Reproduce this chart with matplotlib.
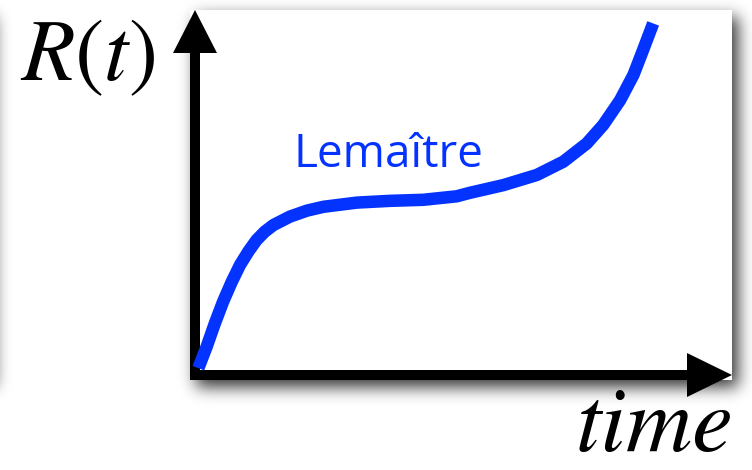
import numpy as np
import matplotlib
matplotlib.use('Agg')
import matplotlib.pyplot as plt
from matplotlib.patches import Rectangle, FancyArrow

# Curva de Lemaitre (unidades arbitrarias, 0..10)
t = [0.03, 0.21, 0.39, 0.57, 0.76, 0.94, 1.12, 1.30, 1.48, 1.67,
     2.03, 2.40, 2.76, 3.49, 4.21, 4.94, 5.67, 5.96, 6.69, 7.42,
     8.00, 8.51, 8.87, 9.24, 9.53, 9.74, 9.96]
R = [0.11, 0.72, 1.39, 2.01, 2.58, 3.06, 3.44, 3.77, 4.01, 4.20,
     4.44, 4.61, 4.72, 4.84, 4.89, 4.92, 5.02, 5.12, 5.34, 5.63,
     6.01, 6.53, 7.06, 7.77, 8.49, 9.20, 9.96]

etiqueta_curva = 'Lemaître'
etiqueta_y = '$R(t)$'
etiqueta_x = 'time'
azul = '#0433ff'

W, H = 752, 470
plt.rcParams['mathtext.fontset'] = 'stix'


def sombra(rects, sigma=7, pad=40):
    # rectangulo difuminado (sombra) en pixeles
    m = np.zeros((H + 2 * pad, W + 2 * pad))
    for x0, y0, x1, y1 in rects:
        x0 = max(int(x0) + pad, 0); x1 = min(int(x1) + pad, W + 2 * pad)
        y0 = max(int(y0) + pad, 0); y1 = min(int(y1) + pad, H + 2 * pad)
        m[y0:y1, x0:x1] = 1.0
    r = np.arange(-3 * sigma, 3 * sigma + 1)
    k = np.exp(-r ** 2 / (2. * sigma ** 2))
    k /= k.sum()
    m = np.apply_along_axis(lambda f: np.convolve(f, k, mode='same'), 1, m)
    m = np.apply_along_axis(lambda c: np.convolve(c, k, mode='same'), 0, m)
    return m[pad:-pad, pad:-pad]


fig = plt.figure(figsize=(W / 100, H / 100), dpi=100)

# capa de decoracion en pixeles
deco = fig.add_axes([0, 0, 1, 1])
deco.axis('off')

caja = (190, 10, 732, 380)
dx, dy = 6, 7
s = sombra([(caja[0] + dx, caja[1] + dy, caja[2] + dx, caja[3] + dy),
            (-400, caja[1] + dy, -6, caja[3] + dy)], sigma=8)
img = np.zeros((H, W, 4))
img[..., 3] = 0.8 * s
deco.imshow(img, extent=(0, W, H, 0), interpolation='bilinear', zorder=1)
deco.set_aspect('auto')
deco.set_xlim(0, W)
deco.set_ylim(H, 0)

deco.add_patch(Rectangle((caja[0], caja[1]), caja[2] - caja[0], caja[3] - caja[1],
                         facecolor='white', edgecolor='none', zorder=2))

# ejes con flechas
deco.add_patch(FancyArrow(195, 380, 0, -370, width=10, head_width=44, head_length=43,
                          length_includes_head=True, color='black', lw=0, zorder=3))
deco.add_patch(FancyArrow(190, 375, 542, 0, width=10, head_width=44, head_length=45,
                          length_includes_head=True, color='black', lw=0, zorder=3))

deco.text(20, 80, etiqueta_y, fontsize=63, color='black', ha='left', va='baseline', zorder=4)
deco.text(576, 451, etiqueta_x, family='STIXGeneral', style='italic', fontsize=66,
          color='black', ha='left', va='baseline', zorder=4)
deco.text(293, 167, etiqueta_curva, family='Open Sans', fontsize=33, color=azul,
          ha='left', va='baseline', zorder=4)

# curva
ax = fig.add_axes([0, 0, 1, 1])
ax.patch.set_visible(False)
ax.set_xlim(-197 / 45.8, (W - 197) / 45.8)
ax.set_ylim(-(H - 372) / 35., 372 / 35.)
ax.axis('off')
ax.plot(t, R, color=azul, lw=9, solid_capstyle='butt', solid_joinstyle='round')

fig.savefig('out.png', dpi=100)
